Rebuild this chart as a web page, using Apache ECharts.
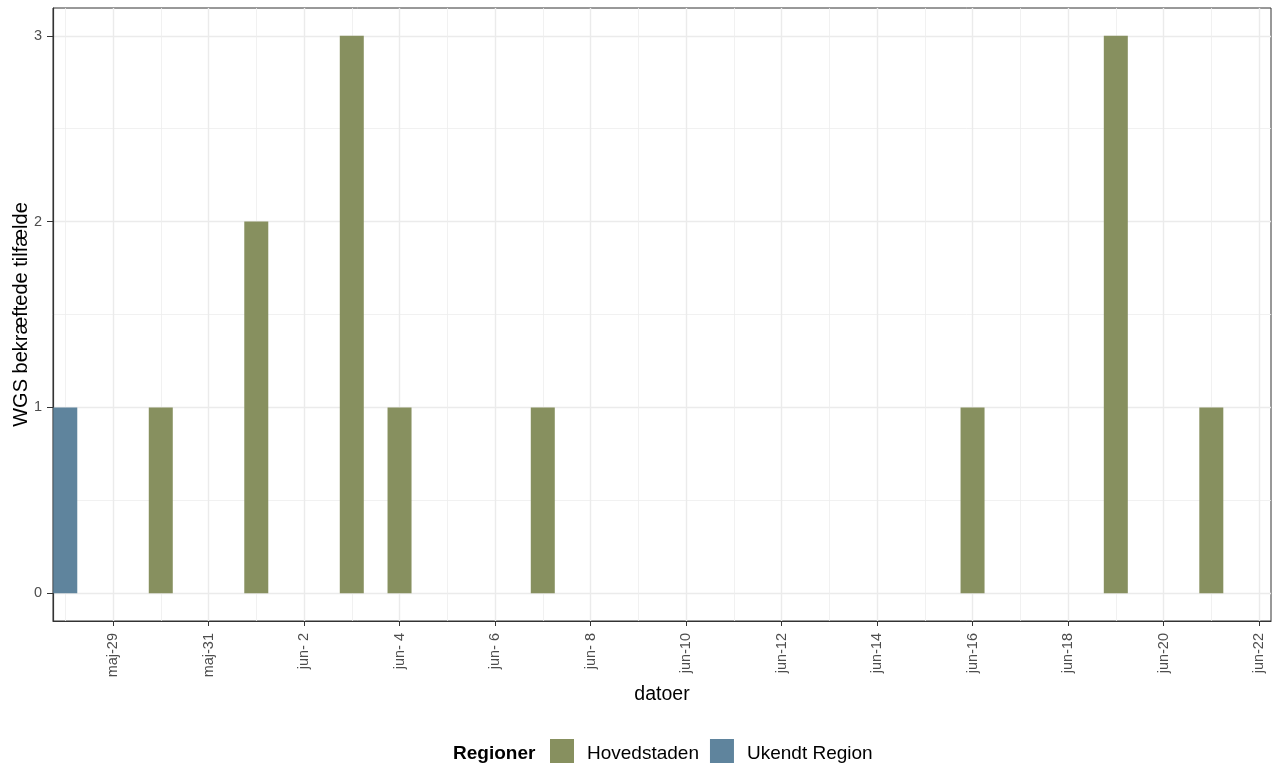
<!DOCTYPE html>
<html>
<head>
<meta charset="utf-8">
<script src="https://cdn.jsdelivr.net/npm/echarts@6/dist/echarts.min.js"></script>
<style>html,body{margin:0;padding:0;background:#fff}#c{width:1274px;height:765px}</style>
</head>
<body>
<div id="c"></div>
<script>
// ---- data ----
const baseDate = '2021-05-28';
const hovedDates = ['2021-05-30','2021-06-01','2021-06-03','2021-06-04','2021-06-07','2021-06-16','2021-06-19','2021-06-21'];
const hovedValues = [1, 2, 3, 1, 1, 1, 3, 1];
const ukendtDates = ['2021-05-28'];
const ukendtValues = [1];
const tickDates = ['2021-05-29','2021-05-31','2021-06-02','2021-06-04','2021-06-06','2021-06-08','2021-06-10','2021-06-12','2021-06-14','2021-06-16','2021-06-18','2021-06-20','2021-06-22'];
const tickLabels = ['maj-29','maj-31','jun- 2','jun- 4','jun- 6','jun- 8','jun-10','jun-12','jun-14','jun-16','jun-18','jun-20','jun-22'];
const minorDates = ['2021-05-28','2021-05-30','2021-06-01','2021-06-03','2021-06-05','2021-06-07','2021-06-09','2021-06-11','2021-06-13','2021-06-15','2021-06-17','2021-06-19','2021-06-21'];
const yTicks = [0, 1, 2, 3];
const yMinor = [0.5, 1.5, 2.5];

const DAY = 86400000;
const dayIdx = d => (Date.parse(d) - Date.parse(baseDate)) / DAY;
const xMin = -0.257, xMax = 25.25, yMin = -0.15, yMax = 3.15;
const tickVals = tickDates.map(dayIdx);
const minorVals = minorDates.map(dayIdx);
const labelMap = {};
tickVals.forEach((v, i) => labelMap[v] = tickLabels[i]);

const font = 'Liberation Sans, Arial, sans-serif';
const chart = echarts.init(document.getElementById('c'));
chart.setOption({
  animation: false,
  textStyle: {fontFamily: font},
  grid: {left: 53, right: 3, top: 8, bottom: 144, containLabel: false, outerBoundsMode: 'none',
    show: true, borderColor: '#333', borderWidth: 1, backgroundColor: '#fff'},
  xAxis: [
    {type: 'value', min: xMin, max: xMax,
     name: 'datoer', nameLocation: 'middle', nameGap: 64, nameMoveOverlap: false,
     nameTextStyle: {fontSize: 19.5, color: '#000', fontFamily: font},
     axisLine: {show: true, onZero: false, lineStyle: {color: '#333', width: 1.2}},
     axisTick: {show: true, length: 5, customValues: tickVals, lineStyle: {color: '#333'}},
     axisLabel: {customValues: tickVals, rotate: 90, margin: 12, fontSize: 14.5, color: '#4d4d4d',
       formatter: v => labelMap[v] || ''},
     splitLine: {show: true, lineStyle: {color: '#ebebeb', width: 1.4}}},
    {type: 'value', min: xMin, max: xMax, position: 'bottom',
     axisLine: {show: false, onZero: false}, axisTick: {show: false, customValues: minorVals},
     axisLabel: {show: false, customValues: minorVals},
     splitLine: {show: true, lineStyle: {color: '#ededed', width: 0.8}}}
  ],
  yAxis: [
    {type: 'value', min: yMin, max: yMax,
     name: 'WGS bekræftede tilfælde', nameLocation: 'middle', nameGap: 22, nameRotate: 90, nameMoveOverlap: false,
     nameTextStyle: {fontSize: 20, color: '#000', fontFamily: font},
     axisLine: {show: true, onZero: false, lineStyle: {color: '#333', width: 1.2}},
     axisTick: {show: true, length: 6, customValues: yTicks, lineStyle: {color: '#333'}},
     axisLabel: {customValues: yTicks, margin: 11, fontSize: 14.5, color: '#4d4d4d'},
     splitLine: {show: true, lineStyle: {color: '#ebebeb', width: 1.4}}},
    {type: 'value', min: yMin, max: yMax, position: 'left',
     axisLine: {show: false, onZero: false}, axisTick: {show: false, customValues: yMinor},
     axisLabel: {show: false, customValues: yMinor},
     splitLine: {show: true, lineStyle: {color: '#ededed', width: 0.8}}}
  ],
  title: {text: 'Regioner', left: 453, top: 744, padding: 0,
    textStyle: {fontSize: 19, fontWeight: 'bold', color: '#000', fontFamily: font}},
  legend: {left: 550, top: 739, padding: 0, itemWidth: 24, itemHeight: 24, itemGap: 11, icon: 'rect',
    formatter: n => '{t|' + n + '}',
    textStyle: {fontSize: 19, color: '#000', fontFamily: font, padding: [0, 0, 0, 8],
      rich: {t: {fontSize: 19, color: '#000', fontFamily: font, padding: [6, 0, 0, 0]}}},
    data: ['Hovedstaden', 'Ukendt Region']},
  series: [
    {name: 'Hovedstaden', type: 'bar', xAxisIndex: 0, yAxisIndex: 0, barWidth: 24, barGap: '-100%',
     itemStyle: {color: '#87905f'},
     data: hovedDates.map((d, i) => [dayIdx(d), hovedValues[i]])},
    {name: 'Ukendt Region', type: 'bar', xAxisIndex: 0, yAxisIndex: 0, barWidth: 24, barGap: '-100%',
     itemStyle: {color: '#5f849d'},
     data: ukendtDates.map((d, i) => [dayIdx(d), ukendtValues[i]])}
  ]
});
</script>
</body>
</html>
